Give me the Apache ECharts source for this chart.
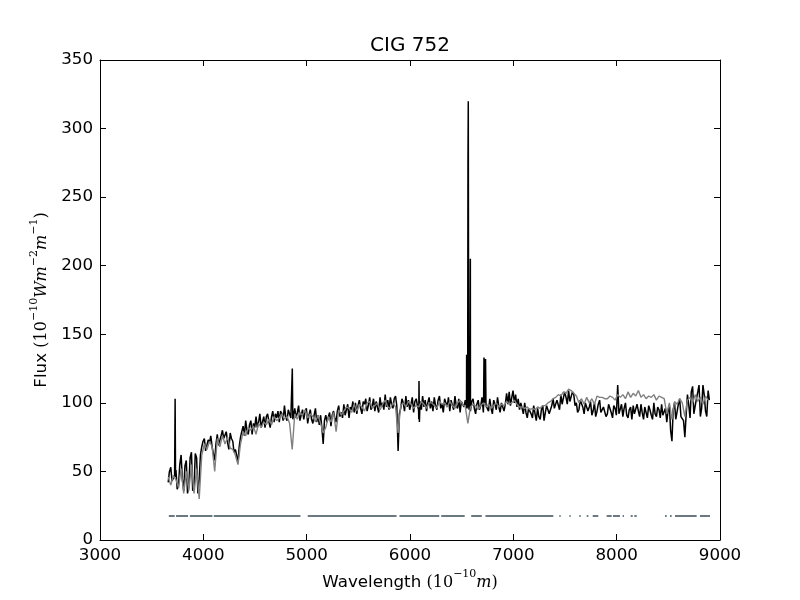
<!DOCTYPE html>
<html>
<head>
<meta charset="utf-8">
<script src="https://cdn.jsdelivr.net/npm/echarts@6/dist/echarts.min.js"></script>
<style>
html,body{margin:0;padding:0;background:#fff;}
#chart{width:800px;height:600px;}
</style>
</head>
<body>
<div id="chart"></div>
<script>
// Wavelength grid (Angstrom) shared by observed and model spectra
const wave = [
3660,3685,3710,3735,3760,
3785,3810,3835,3860,3885,3910,3935,3960,3985,
4010,4035,4060,4085,
4110,
4135,4160,4185,4210,4235,4260,4285,
4310,4335,4360,
4385,4410,4435,4460,4485,4510,4535,4560,4585,4610,
4635,4660,4685,4710,4735,4760,4785,4810,4835,4860,
4885,4910,4935,4960,4985,5010,5035,5060,5085,5110,5135,5160,5185,
5210,5235,5260,5285,5310,5335,5360,5385,5410,5435,5460,5485,
5510,5535,5560,5585,5610,5635,5660,5685,5710,5735,5760,5785,5810,5835,5860,
5885,
5910,5935,5960,5985,6010,6035,6060,6085,6110,6135,6160,6185,
6210,6235,6260,6285,6310,6335,6360,6385,6410,6435,6460,6485,6510,6535,
6560,
6585,6610,6635,6660,6685,6710,6735,6760,6785,6810,6835,6860,6885,6910,6935,6960,6985,7010,7035,7060,
7085,7110,7135,7160,7185,7210,7235,7260,7285,7310,7335,7360,7385,7410,7435,7460,7485,7510,7535,7560,7585,
7610,7635,7660,7685,7710,7735,7760,7785,7810,7835,7860,7885,7910,7935,7960,7985,8010,
8035,8060,8085,8110,8135,8160,8185,8210,8235,8260,8285,8310,8335,8360,8385,8410,8435,8460,
8485,8510,8535,8560,8585,8610,8635,8660,8685,8710,8735,8760,8785,8810,8835,8860,8885
];

// Observed flux (black) on the main grid
const obsFlux = [
42,53,45,51,40,
62,36,58,40,64,38,60,44,68,
74,66,71,68,
58,
77,70,80,73,71,78,72,
66,56,75,
83,87,77,87,85,90,86,82,90,90,
86,90,86,89,86,92,98,87,94,90,
96,93,87,95,94,85,95,85,96,91,91,70,91,
85,83,94,86,98,93,99,95,89,95,93,92,
102,92,99,94,104,98,94,102,104,100,106,102,104,96,105,
65,
96,100,105,102,99,93,103,88,95,97,94,104,
101,104,95,105,99,103,97,94,101,105,96,93,100,102,
100,
94,103,92,102,98,93,101,94,96,102,95,97,100,94,107,108,104,100,97,95,
99,100,89,97,89,92,96,88,98,93,98,91,103,95,102,106,99,104,109,102,106,
100,95,103,92,101,97,91,100,94,102,92,97,92,100,89,96,113,
93,90,100,89,97,98,91,94,99,88,96,98,91,100,90,95,99,92,
86,98,72,100,89,103,90,75,106,89,112,92,108,90,113,94,109
];

// Observed flux (black) on the in-between grid
const waveB = [
3672,3697,3722,3747,3772,
3797,3822,3847,3872,3897,3922,3947,3972,3997,
4022,4047,4072,4097,
4122,
4147,4172,4197,4222,4247,4272,4297,
4322,4347,4372,
4397,4422,4447,4472,4497,4522,4547,4572,4597,4622,
4647,4672,4697,4722,4747,4772,4797,4822,4847,4872,
4897,4922,4947,4972,4997,5022,5047,5072,5097,5122,5147,5172,5197,
5222,5247,5272,5297,5322,5347,5372,5397,5422,5447,5472,5497,
5522,5547,5572,5597,5622,5647,5672,5697,5722,5747,5772,5797,5822,5847,5872,
5897,
5922,5947,5972,5997,6022,6047,6072,6097,6122,6147,6172,6197,
6222,6247,6272,6297,6322,6347,6372,6397,6422,6447,6472,6497,6522,6547,
6572,
6597,6622,6647,6672,6697,6722,6747,6772,6797,6822,6847,6872,6897,6922,6947,6972,6997,7022,7047,7072,
7097,7122,7147,7172,7197,7222,7247,7272,7297,7322,7347,7372,7397,7422,7447,7472,7497,7522,7547,7572,7597,
7622,7647,7672,7697,7722,7747,7772,7797,7822,7847,7872,7897,7922,7947,7972,7997,8022,
8047,8072,8097,8122,8147,8172,8197,8222,8247,8272,8297,8322,8347,8372,8397,8422,8447,8472,
8497,8522,8547,8572,8597,8622,8647,8672,8697,8722,8747,8772,8797,8822,8847,8872,8897
];
const obsFluxB = [
50,43,47,37,55,
44,54,34,60,36,63,34,62,72,
65,73,76,63,
70,
69,76,74,79,66,74,64,
62,68,79,
76,80,84,77,82,82,92,86,82,92,
82,94,92,94,94,87,90,95,89,90,
89,98,91,88,96,91,88,91,86,84,82,87,86,
93,91,89,94,90,89,91,99,97,101,100,98,
96,101,103,98,95,103,101,93,97,95,97,95,99,103,98,
92,
103,94,97,95,104,101,98,101,105,102,100,96,
94,98,102,96,93,100,104,102,95,98,103,101,97,96,
95,
101,96,99,95,104,100,97,103,92,99,104,93,101,99,99,98,109,106,103,100,
92,93,96,92,98,87,90,95,87,98,92,98,96,102,95,99,108,99,101,108,98,
93,102,97,100,94,101,94,90,99,93,97,90,99,93,98,91,92,
99,96,91,95,88,92,99,90,93,97,89,95,88,92,97,89,91,96,
94,80,95,88,99,90,87,91,99,108,92,103,113,96,106,90,102
];

// Emission lines in the observed spectrum
const lineWave = [3723,3727,3731, 4856,4861,4866, 6083,6087,6091, 6544,6548,6552, 6558,6561,6564,6568, 6580,6584,6588, 6712,6716,6721,6727,6731,6736];
const lineFlux = [48,103,46, 90,125,88, 95,116,86, 98,135,96, 100,276,320,98, 100,205,96, 98,133,100,99,132,98];

// Model flux (grey)
const modelFlux = [
46,40,47,44,38,
52,34,50,36,55,34,52,30,62,
70,66,72,68,
50,
74,68,76,70,75,67,66,
62,55,70,
79,76,82,80,83,77,85,82,86,84,
88,84,90,87,89,92,88,90,85,66,
92,88,93,91,95,89,92,90,86,91,85,78,82,
90,86,93,79,95,91,94,97,96,93,99,94,
99,97,94,100,101,96,98,100,95,99,102,97,96,100,97,
78,
98,100,97,101,99,96,98,97,101,99,96,100,
100,98,96,101,99,100,97,101,98,96,100,102,99,97,
85,
97,99,98,95,98,100,97,99,96,98,100,97,99,98,101,99,100,102,99,97,
97,96,97,95,96,95,97,96,98,98,100,101,103,104,106,105,108,107,110,109,107,
105,100,103,99,104,100,103,99,105,104,104,103,103,105,104,102,106,
104,106,103,108,104,107,105,109,104,106,103,105,104,106,102,105,104,103,
92,100,88,101,99,103,100,90,102,104,100,106,101,104,99,105,102
];

// Mask segments (Angstrom) drawn at constant level
const maskStart = [3666,3736,3870,4101,5010,5898,6302,6592,6730,7445,7542,7638,7710,7768,7903,7964,8058,8136,8171,8468,8516,8564,8806];
const maskEnd   = [3723,3852,4088,4940,5870,6283,6529,6695,7387,7458,7555,7652,7726,7822,7952,8032,8071,8155,8194,8484,8532,8774,8903];
const maskLevel = 17.5;

const xTicks = [3000,4000,5000,6000,7000,8000,9000];
const yTicks = [0,50,100,150,200,250,300,350];

// Build series data
const obsData = wave.map((w,i)=>[w,obsFlux[i]])
  .concat(waveB.map((w,i)=>[w,obsFluxB[i]]))
  .concat(lineWave.map((w,i)=>[w,lineFlux[i]]))
  .sort((a,b)=>a[0]-b[0]);
const modelData = wave.map((w,i)=>[w,modelFlux[i]]);
const maskData = [];
maskStart.forEach((s,i)=>{
  maskData.push([s,maskLevel]);
  maskData.push([maskEnd[i],maskLevel]);
  maskData.push([maskEnd[i],'-']);
});

const FONT = 'DejaVu Sans';
const MATH = 'DejaVu Serif';
const rich = {
  t:{fontFamily:FONT,fontSize:16.7,color:'#000',lineHeight:22,verticalAlign:'bottom'},
  m:{fontFamily:MATH,fontSize:16,color:'#000',lineHeight:22,verticalAlign:'bottom'},
  i:{fontFamily:MATH,fontStyle:'italic',fontSize:16,color:'#000',lineHeight:22,verticalAlign:'bottom'},
  s:{fontFamily:MATH,fontSize:11,color:'#000',lineHeight:22,verticalAlign:'top'}
};
const xName = '{t|Wavelength }{m|(10}{s|−10}{i|m}{m|)}';
const yName = '{t|Flux }{m|(10}{s|−10}{i|Wm}{s|−2}{i|m}{s|−1}{m|)}';

const axisCommon = {
  axisLine:{show:true,onZero:false,lineStyle:{color:'#000',width:1}},
  axisTick:{show:true,inside:true,length:6,lineStyle:{color:'#000',width:1}},
  splitLine:{show:false}
};

const chart = echarts.init(document.getElementById('chart'),null,{renderer:'canvas'});
chart.setOption({
  animation:false,
  backgroundColor:'#ffffff',
  title:{
    text:'CIG 752',left:410,top:36,textAlign:'center',padding:0,
    textStyle:{fontFamily:FONT,fontSize:20,fontWeight:'normal',color:'#000'}
  },
  grid:{left:100,top:60,width:620,height:480,containLabel:false},
  xAxis:[
    Object.assign({
      type:'value',min:xTicks[0],max:xTicks[xTicks.length-1],interval:1000,position:'bottom',
      axisLabel:{color:'#000',fontSize:16.7,fontFamily:FONT,margin:7,formatter:v=>String(v)},
      name:xName,nameLocation:'middle',nameGap:27,nameTextStyle:{rich:rich}
    },axisCommon),
    Object.assign({
      type:'value',min:xTicks[0],max:xTicks[xTicks.length-1],interval:1000,position:'top',
      axisLabel:{show:false}
    },axisCommon)
  ],
  yAxis:[
    Object.assign({
      type:'value',min:yTicks[0],max:yTicks[yTicks.length-1],interval:50,position:'left',
      axisLabel:{color:'#000',fontSize:16.7,fontFamily:FONT,margin:7,formatter:v=>String(v)},
      name:yName,nameLocation:'middle',nameGap:46,nameRotate:90,nameTextStyle:{rich:rich}
    },axisCommon),
    Object.assign({
      type:'value',min:yTicks[0],max:yTicks[yTicks.length-1],interval:50,position:'right',
      axisLabel:{show:false}
    },axisCommon)
  ],
  series:[
    {type:'line',name:'observed',xAxisIndex:0,yAxisIndex:0,data:obsData,showSymbol:false,symbol:'none',
     lineStyle:{color:'#000000',width:1.5},z:2},
    {type:'line',name:'model',xAxisIndex:0,yAxisIndex:0,data:modelData,showSymbol:false,symbol:'none',
     lineStyle:{color:'#808080',width:1.4},z:3},
    {type:'line',name:'mask',xAxisIndex:0,yAxisIndex:0,data:maskData,showSymbol:false,symbol:'none',connectNulls:false,
     lineStyle:{color:'#6b7a80',width:2,cap:'butt'},z:4}
  ]
});
</script>
</body>
</html>
